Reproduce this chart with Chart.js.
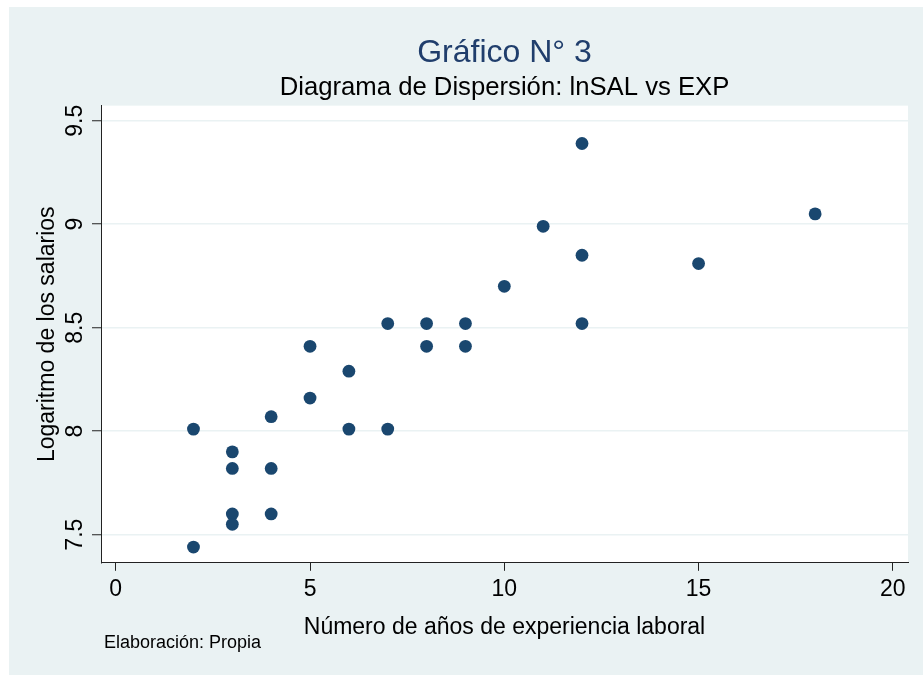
<!DOCTYPE html>
<html>
<head>
<meta charset="utf-8">
<title>Gráfico N° 3</title>
<script src="https://cdn.jsdelivr.net/npm/chart.js@4"></script>
<style>
    html, body { margin: 0; padding: 0; background: #fff; }
    #wrap { width: 923px; height: 675px; }
</style>
</head>
<body>
<div id="wrap"><canvas id="chart"></canvas></div>
<script>
// años de experiencia (EXP) y logaritmo del salario (lnSAL)
const expYears = [2, 2, 3, 3, 3, 3, 4, 4, 4, 5, 5, 6, 6, 7, 7, 8, 8, 9, 9, 10, 11, 12, 12, 12, 15, 18];
const lnSal = [8.01, 7.44, 7.90, 7.82, 7.60, 7.55, 8.07, 7.82, 7.60, 8.41, 8.16, 8.29, 8.01, 8.52, 8.01,
    8.52, 8.41, 8.52, 8.41, 8.70, 8.99, 9.39, 8.85, 8.52, 8.81, 9.05];

const xTicks = [0, 5, 10, 15, 20];
const xTickLabels = ['0', '5', '10', '15', '20'];
const yTicks = [7.5, 8, 8.5, 9, 9.5];
const yTickLabels = ['7.5', '8', '8.5', '9', '9.5'];

const bgColor = '#eaf2f3';
const dotColor = '#1a476f';
const axisColor = '#222';

Chart.defaults.font.family = "'Liberation Sans', Arial, sans-serif";
Chart.defaults.color = '#000';

const points = expYears.map(function (x, i) {
    return { x: x, y: lnSal[i] };
});

// fondo gris azulado con el área del gráfico en blanco
const backgroundPlugin = {
    id: 'background',
    beforeDraw(chart) {
        const ctx = chart.ctx;
        const area = chart.chartArea;
        ctx.save();
        ctx.fillStyle = '#fff';
        ctx.fillRect(0, 0, chart.width, chart.height);
        ctx.fillStyle = bgColor;
        ctx.fillRect(9, 7, chart.width - 9, chart.height - 7);
        ctx.fillStyle = '#fff';
        ctx.fillRect(area.left, area.top, area.right - area.left, area.bottom - area.top);
        ctx.restore();
    }
};

const notePlugin = {
    id: 'note',
    afterDraw(chart) {
        const ctx = chart.ctx;
        ctx.save();
        ctx.font = "18px 'Liberation Sans', Arial, sans-serif";
        ctx.fillStyle = '#000';
        ctx.textBaseline = 'alphabetic';
        ctx.fillText('Elaboración: Propia', chart.chartArea.left + 3, 648);
        ctx.restore();
    }
};

new Chart(document.getElementById('chart'), {
    type: 'scatter',
    data: {
        datasets: [{
            data: points,
            backgroundColor: dotColor,
            borderWidth: 0,
            pointRadius: 6.4,
            pointHoverRadius: 6.4
        }]
    },
    options: {
        responsive: true,
        maintainAspectRatio: false,
        animation: false,
        layout: {
            padding: { left: 0, right: 15, top: 0, bottom: 28 }
        },
        plugins: {
            legend: { display: false },
            tooltip: { enabled: false },
            title: {
                display: true,
                fullSize: false,
                text: 'Gráfico N° 3',
                color: '#203e6c',
                font: { size: 32, weight: 'normal' },
                padding: { top: 34.2, bottom: 0 }
            },
            subtitle: {
                display: true,
                fullSize: false,
                text: 'Diagrama de Dispersión: lnSAL vs EXP',
                color: '#000',
                font: { size: 25.7, weight: 'normal' },
                padding: { top: 0.3, bottom: 1.9 }
            }
        },
        scales: {
            x: {
                type: 'linear',
                min: -0.38,
                max: 20.39,
                afterBuildTicks: function (scale) {
                    scale.ticks = xTicks.map(function (v) { return { value: v }; });
                },
                ticks: {
                    font: { size: 23 },
                    color: '#000',
                    padding: 5.2,
                    maxRotation: 0,
                    callback: function (value) {
                        return xTickLabels[xTicks.indexOf(value)];
                    }
                },
                grid: {
                    drawOnChartArea: false,
                    tickLength: 8,
                    tickColor: axisColor,
                    tickWidth: 1
                },
                border: { color: axisColor, width: 1 },
                title: {
                    display: true,
                    text: 'Número de años de experiencia laboral',
                    color: '#000',
                    font: { size: 23 },
                    padding: { top: 5.4, bottom: 5.2 }
                }
            },
            y: {
                type: 'linear',
                min: 7.364,
                max: 9.573,
                afterBuildTicks: function (scale) {
                    scale.ticks = yTicks.map(function (v) { return { value: v }; });
                },
                ticks: {
                    font: { size: 23 },
                    color: '#000',
                    padding: 0,
                    minRotation: 90,
                    maxRotation: 90,
                    crossAlign: 'center',
                    callback: function (value) {
                        return yTickLabels[yTicks.indexOf(value)];
                    }
                },
                grid: {
                    color: bgColor,
                    lineWidth: 1.5,
                    tickLength: 9,
                    tickColor: axisColor,
                    tickWidth: 1
                },
                border: { color: axisColor, width: 1 },
                title: {
                    display: true,
                    text: 'Logaritmo de los salarios',
                    color: '#000',
                    font: { size: 23 },
                    padding: { top: 33.7, bottom: 3.1 }
                }
            }
        }
    },
    plugins: [backgroundPlugin, notePlugin]
});
</script>
</body>
</html>
